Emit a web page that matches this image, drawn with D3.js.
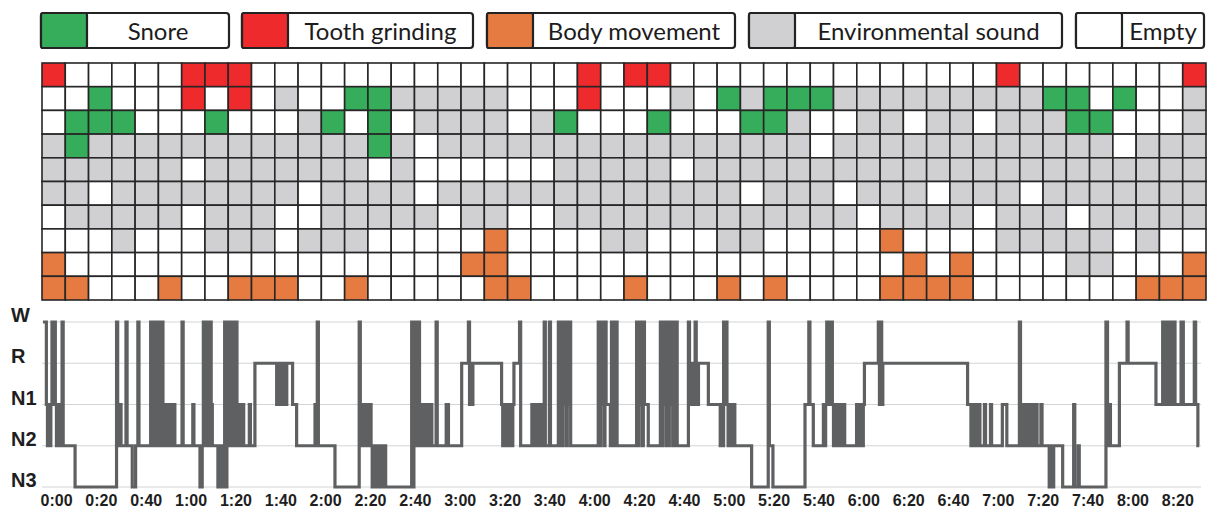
<!DOCTYPE html>
<html>
<head>
<meta charset="utf-8">
<script src="https://cdn.jsdelivr.net/npm/d3@7"></script>
<style>
  body { margin: 0; background: #fff; }
  svg { display: block; }
</style>
</head>
<body>
<div id="chart"></div>
<script>
// legend categories
const categories = ["Snore", "Tooth grinding", "Body movement", "Environmental sound", "Empty"];
const catCodes = ["S", "T", "B", "E", "."];

// event grid, 10 rows x 50 columns (top row first)
const gridRows = [
  "T.....TTT..............T.TT..............T.......T",
  "..S...T.T.E..SSEEEEE...T...E.SESSSEEEEEEEEESS.S..E",
  ".SSS...S...ES.S.EEEE.ES...S...SSE..EE.EE.EEESS...E",
  "ESEEEEEEEEEEEESE.EEEEEEEEEEEEEEEE.EEEEEEEEEEEE.EEE",
  "EEEEEE.EEEEEEE.E......EEEEE.EEEEEEEEEEEEEEEEEEEEEE",
  "EE.EEEEEEEE.EEEE.EEEEEEEEEEEEE.EEE.EEE.EEE.EEEEEEE",
  ".EEEEE.EEE..EEEEE.EE..EEEEEEEEEEEEE.EEEE.EEE.EEEEE",
  "...E...EEE.EEE.....B....EE...EE.....B....EEEEE.E..",
  "B.................BB.................B.B....EE...B",
  "BB...B..BBB..B.....BB....B...B.B....BBBB.......BBB"
];

// hypnogram: [start minute, stages]; each character is one 30 s epoch,
// the last one lasts until the next entry
const stageNames = ["W", "R", "N1", "N2", "N3"];
const stageCodes = ["W", "R", "1", "2", "3"];
const hypno = [
  [0, "W"], [1.5, "1"], [2, "2121"], [4, "W1"], [5, "W"], [5.5, "121212"], [8.5, "W"], [9, "2"],
  [14.3, "3"], [32.8, "W"], [33.3, "1212"], [35.3, "2"], [37, "W"], [37.5, "2"], [39.8, "3"],
  [41.3, "2"], [42.3, "W"], [42.8, "2"], [48, "W2W2W2W2W2W"], [53.5, "12121212"], [57.5, "1"],
  [58.8, "2"], [62, "W"], [62.5, "2"], [66.8, "1"], [67.3, "2"], [70, "3"], [71, "2"],
  [71.5, "W2W2W2W1"], [75.5, "2"], [78, "323232"], [81, "W3W2W2W2W2W2"], [87, "121212"],
  [90, "2"], [92, "1"], [92.5, "2"], [94.5, "R"], [104.2, "1R1R1R1R1"], [108.7, "R"],
  [111.3, "1"], [113.1, "2"], [121.3, "12W"], [122.8, "2"], [130.2, "3"], [141, "W"],
  [141.5, "2"], [142.8, "12121212"], [146.8, "3"], [147.3, "232323232323"], [153.3, "3"],
  [164.4, "W3W2W2W"], [167.9, "121212121212"], [173.9, "2"], [175.3, "W"], [175.8, "2"],
  [179.8, "1"], [180.8, "2"], [186.7, "R"], [189.7, "W1R1"], [191.7, "R"], [204.5, "1"],
  [205, "2121212121"], [210, "R"], [212.5, "W"], [213, "2"], [218, "12121212121"],
  [223.5, "W"], [224, "2"], [225.8, "W"], [226.3, "2"], [229.8, "W2W2W1W2W1W2"], [235.8, "2"],
  [247.6, "W2W1W2W"], [251.1, "1"], [253, "2W2W2W"], [256, "2"], [264.7, "W2W1W2W1"],
  [268.7, "1"], [269.9, "2"], [275.3, "W2W1W2W"], [278.8, "2"], [279.3, "W1W2W2W"],
  [282.8, "2"], [287.8, "W"], [288.3, "1R1R1"], [290.8, "W"], [291.3, "R1R"], [292.8, "R"],
  [296.7, "1"], [302, "212W1W12121212"], [309, "2"], [316, "3"], [323.4, "W"], [323.9, "2"],
  [325.5, "3"], [339.8, "1"], [341.5, "W"], [342, "1"], [343.5, "2"],
  [348, "121W1W1W121212121212"], [358, "2"], [362.8, "1212121"], [366.3, "R"],
  [372.5, "W1W1"], [374.5, "R"], [412.3, "1"], [413.8, "212121212"], [418.3, "2"],
  [419.8, "1"], [420.3, "2"], [422.5, "1"], [423, "2"], [427.8, "1"], [429.8, "2"],
  [435.4, "W"], [435.9, "2"], [437, "121212121"], [441.5, "2"], [442.8, "1"], [443.3, "2"],
  [445, "1"], [445.5, "2"], [448.7, "3"], [449.2, "2"], [450.2, "3"], [450.7, "2"],
  [454.7, "3"], [459.6, "1"], [460.1, "3"], [461.6, "2"], [462.1, "3"], [474, "W"],
  [474.7, "2"], [475.5, "1"], [476, "2"], [480, "R"], [483.4, "W"], [483.9, "R"],
  [496.3, "1"], [499.3, "W1W1W1W1W1W1"], [505.3, "1"], [507.5, "W"], [508.5, "1"],
  [513.4, "W"], [514, "1"], [515, "2"]
];
const hypnoEnd = 515.6;

const timeTicks = ["0:00", "0:20", "0:40", "1:00", "1:20", "1:40", "2:00", "2:20", "2:40",
  "3:00", "3:20", "3:40", "4:00", "4:20", "4:40", "5:00", "5:20", "5:40", "6:00", "6:20",
  "6:40", "7:00", "7:20", "7:40", "8:00", "8:20"];

// ---- layout / styles ----
const width = 1211, height = 510;
const colorOf = { "S": "#35ad5a", "T": "#ee2a2d", "B": "#e57b40", "E": "#d0d0d3", ".": "#ffffff" };
const legendBoxes = [[41, 229], [242, 473], [487, 735], [749, 1062], [1076, 1204]];
const swatchW = 46;

const svg = d3.select("#chart").append("svg")
  .attr("width", width)
  .attr("height", height);

// legend
const lg = svg.append("g").attr("class", "legend");
categories.forEach((name, i) => {
  const [x0, x1] = legendBoxes[i];
  const g = lg.append("g");
  g.append("rect")
    .attr("x", x0).attr("y", 13).attr("width", x1 - x0).attr("height", 35)
    .attr("rx", 3)
    .attr("fill", "#fff").attr("stroke", "#232323").attr("stroke-width", 2.2);
  g.append("rect")
    .attr("x", x0).attr("y", 13).attr("width", swatchW).attr("height", 35)
    .attr("rx", 2)
    .attr("fill", colorOf[catCodes[i]]).attr("stroke", "#232323").attr("stroke-width", 2.2);
  g.append("text")
    .attr("x", (x0 + swatchW + x1) / 2)
    .attr("y", 39.5)
    .attr("text-anchor", "middle")
    .style("font-family", "Lato, 'Open Sans', sans-serif")
    .style("font-size", "24px")
    .style("fill", "#1c1c1c")
    .text(name);
});

// event grid
const nCols = gridRows[0].length;
const xCell = d3.scaleBand().domain(d3.range(nCols)).range([42, 1206]);
const yCell = d3.scaleBand().domain(d3.range(gridRows.length)).range([63, 300]);

const cells = [];
gridRows.forEach((row, r) => {
  row.split("").slice(0, nCols).forEach((c, col) => cells.push({ r, col, c }));
});

svg.append("g").attr("class", "grid")
  .selectAll("rect")
  .data(cells)
  .enter()
  .append("rect")
  .attr("x", d => xCell(d.col))
  .attr("y", d => yCell(d.r))
  .attr("width", xCell.bandwidth())
  .attr("height", yCell.bandwidth())
  .attr("fill", d => colorOf[d.c])
  .attr("stroke", "#262626")
  .attr("stroke-width", 1.6);

// hypnogram
const x = d3.scaleLinear().domain([0, 500]).range([43, 43 + 500 * 2.2425]);
const y = d3.scalePoint().domain(stageCodes).range([322, 487]);

const pts = [];
hypno.forEach(([t, s]) => {
  s.split("").forEach((c, i) => pts.push({ t: t + i * 0.5, s: c }));
});
pts.push({ t: hypnoEnd, s: pts[pts.length - 1].s });

svg.append("g").attr("class", "stage-lines")
  .selectAll("line")
  .data(stageCodes)
  .enter()
  .append("line")
  .attr("x1", 42).attr("x2", 1201)
  .attr("y1", d => y(d)).attr("y2", d => y(d))
  .attr("stroke", "#d4d4d4")
  .attr("stroke-width", 1);

svg.append("g").attr("class", "stage-labels")
  .selectAll("text")
  .data(stageCodes)
  .enter()
  .append("text")
  .attr("x", 11)
  .attr("y", d => y(d))
  .style("font-family", "'Liberation Sans', Arial, sans-serif")
  .style("font-weight", "bold")
  .style("font-size", "20px")
  .style("fill", "#1e1e1e")
  .text((d, i) => stageNames[i]);

const line = d3.line()
  .x(d => x(d.t))
  .y(d => y(d.s))
  .curve(d3.curveStepAfter);

svg.append("path")
  .datum(pts)
  .attr("fill", "none")
  .attr("stroke", "#5e6062")
  .attr("stroke-width", 3.2)
  .attr("d", line);

// time axis
const toMin = s => { const [h, m] = s.split(":"); return +h * 60 + +m; };
const xAxis = d3.axisBottom(x)
  .tickValues(timeTicks.map(toMin))
  .tickFormat((d, i) => timeTicks[i])
  .tickSize(0);

const ax = svg.append("g")
  .attr("transform", "translate(0,492)")
  .call(xAxis);
ax.select(".domain").remove();
ax.selectAll("text")
  .attr("text-anchor", "start")
  .attr("x", -3)
  .attr("y", 14)
  .attr("dy", null)
  .style("font-family", "'Liberation Sans', Arial, sans-serif")
  .style("font-weight", "bold")
  .style("font-size", "16px")
  .style("fill", "#1e1e1e");
</script>
</body>
</html>
